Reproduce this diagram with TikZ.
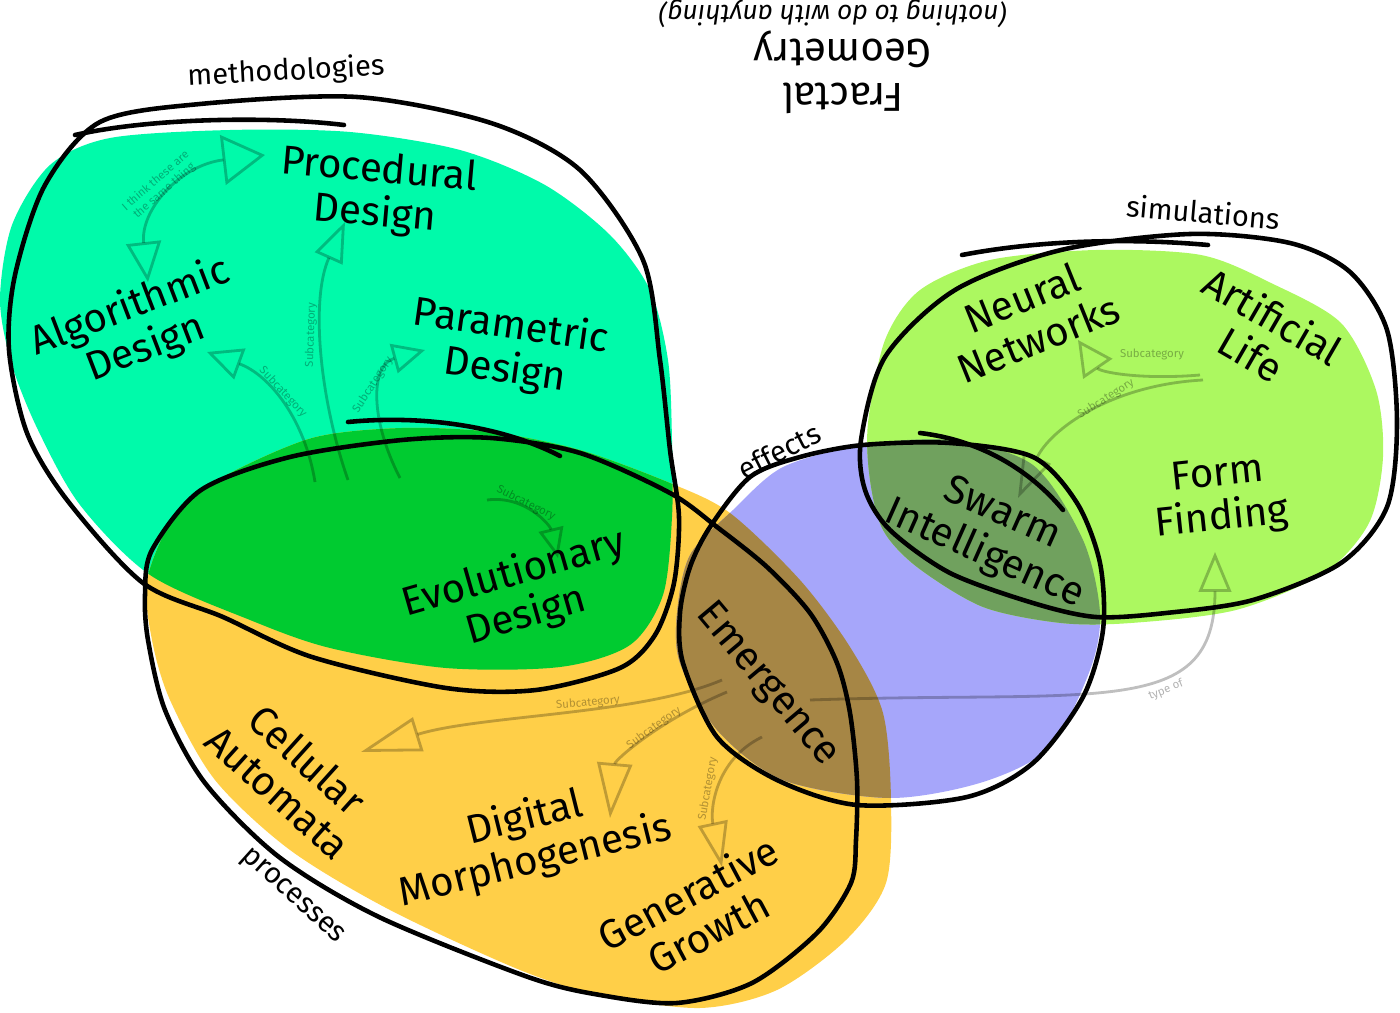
\documentclass[tikz,border=0pt]{standalone}
\usepackage{fontspec}
\setmainfont{Fira Sans}
\usepackage{tikz}
\usetikzlibrary{arrows.meta}

\definecolor{methfill}{RGB}{0,250,170}
\definecolor{procfill}{RGB}{255,207,72}
\definecolor{effefill}{RGB}{166,166,250}
\definecolor{simufill}{RGB}{172,248,96}
\definecolor{mpfill}{RGB}{0,203,48}
\definecolor{pefill}{RGB}{166,134,69}
\definecolor{esfill}{RGB}{112,161,94}

% fill blobs (pixel units)
\newcommand\methblob{plot[smooth cycle] coordinates {(0,300) (12,225) (50,165) (110,138) (230,130) (350,132) (460,150) (545,185) (610,235) (650,290) (668,360) (672,440) (672,517) (663,595) (630,645) (560,667) (446,668) (330,648) (250,620) (150,575) (80,505) (38,430) (12,365)}}
\newcommand\procblob{plot[smooth cycle] coordinates {(147,580) (175,515) (223,477) (312,438) (402,428) (491,432) (580,450) (670,483) (730,513) (800,580) (850,647) (883,713) (891,800) (886,883) (846,940) (777,990) (700,1008) (600,995) (520,970) (390,910) (290,850) (215,780) (170,700) (152,640)}}
\newcommand\effeblob{plot[smooth cycle] coordinates {(733,510) (783,467) (863,445) (950,440) (1033,465) (1083,540) (1100,613) (1090,670) (1050,747) (983,782) (890,798) (783,780) (717,730) (680,663) (677,613) (690,555)}}
\newcommand\simublob{plot[smooth cycle] coordinates {(868,423) (885,340) (920,290) (990,260) (1096,250) (1201,255) (1271,283) (1341,323) (1376,390) (1383,457) (1369,523) (1324,573) (1236,610) (1131,623) (1061,623) (983,607) (917,567) (883,530) (870,480)}}

\begin{document}
\begin{tikzpicture}[x=0.02cm,y=-0.02cm,
  ol/.style={draw=black,line width=2.6pt,line join=round,line cap=round},
  ar/.style 2 args={draw=black,draw opacity=.25,line width=1.6pt,-{Triangle[open,length=#1,width=#2]}},
  lab/.style={font=\fontsize{23}{25}\selectfont,align=center,inner sep=0pt},
  grp/.style={font=\fontsize{16.5}{19}\selectfont,inner sep=0pt},
  tiny/.style={font=\fontsize{6.5}{7.5}\selectfont,text opacity=.3,inner sep=0pt,align=center}]
\useasboundingbox (0,0) rectangle (1400,1013);

% fills and overlaps
\fill[methfill] \methblob; \fill[procfill] \procblob;
\fill[effefill] \effeblob; \fill[simufill] \simublob;
\begin{scope} \clip \methblob; \fill[mpfill] \procblob; \end{scope}
\begin{scope} \clip \procblob; \fill[pefill] \effeblob; \end{scope}
\begin{scope} \clip \effeblob; \fill[esfill] \simublob; \end{scope}

% arrow ends
\coordinate (a0) at (148,282); \coordinate (p0) at (265,155);
\coordinate (v1) at (315,482); \coordinate (v2) at (348,480); \coordinate (v3) at (400,478);
\coordinate (a1) at (207,352); \coordinate (p1) at (345,222); \coordinate (q1) at (425,350);
\coordinate (e0) at (487,500); \coordinate (e1) at (558,558);
\coordinate (m1) at (722,680); \coordinate (m2) at (727,692); \coordinate (m3) at (762,737); \coordinate (m4) at (810,700);
\coordinate (c1) at (361,752); \coordinate (d1) at (610,818); \coordinate (g1) at (722,867); \coordinate (f1) at (1215,552);
\coordinate (l1) at (1200,375); \coordinate (l2) at (1203,380);
\coordinate (n1) at (1078,340); \coordinate (s1) at (1018,498);

% arrows
\draw[draw=black,draw opacity=.25,line width=1.6pt,{Triangle[open,length=8mm,width=7mm]}-{Triangle[open,length=8.5mm,width=10mm]}]
  (a0) .. controls (140,210) and (180,165) .. (p0);
\draw[ar={7mm}{6.5mm}] (v1) .. controls (305,420) and (270,375) .. (a1);
\draw[ar={8mm}{6mm}] (v2) .. controls (320,400) and (310,300) .. (p1);
\draw[ar={6.5mm}{6mm}] (v3) .. controls (370,420) and (370,365) .. (q1);
\draw[ar={6mm}{5mm}] (e0) .. controls (525,495) and (550,525) .. (e1);
\draw[ar={12mm}{7mm}] (m1) .. controls (640,715) and (480,715) .. (c1);
\draw[ar={11mm}{7mm}] (m2) .. controls (660,720) and (615,760) .. (d1);
\draw[ar={9mm}{6mm}] (m3) .. controls (715,760) and (710,810) .. (g1);
\draw[ar={8mm}{6.5mm}] (m4) .. controls (1100,690) and (1215,720) .. (f1);
\draw[ar={7mm}{7mm}] (l1) .. controls (1140,380) and (1100,372) .. (n1);
\draw[ar={9mm}{6mm}] (l2) .. controls (1110,385) and (1050,430) .. (s1);

% outlines
\draw[ol] plot[smooth cycle] coordinates {(100,122) (200,104) (357,97) (491,123) (580,170) (643,260) (660,360) (670,450) (679,517) (674,583) (655,635) (620,668) (536,690) (446,688) (312,657) (223,617) (143,583) (67,500) (27,433) (9,350) (15,275) (45,185)};
\draw[ol] (75,135) .. controls (150,118) and (270,116) .. (344,125);
\draw[ol] plot[smooth cycle] coordinates {(152,550) (201,490) (290,457) (402,440) (491,438) (580,453) (670,493) (717,527) (767,567) (810,613) (837,663) (850,713) (857,780) (856,840) (851,883) (817,933) (752,983) (677,1003) (600,995) (528,977) (379,917) (279,857) (205,783) (165,710) (148,640) (145,595)};
\draw[ol] (348,422) .. controls (420,415) and (500,425) .. (560,456);
\draw[ol] plot[smooth cycle] coordinates {(710,527) (750,477) (800,457) (863,445) (950,443) (1033,457) (1077,503) (1100,563) (1103,630) (1083,697) (1033,763) (967,797) (857,805) (777,780) (717,737) (683,663) (680,613) (690,567)};
\draw[ol] (920,433) .. controls (980,440) and (1030,470) .. (1063,510);
\draw[ol] plot[smooth cycle] coordinates {(861,440) (885,357) (955,290) (1061,250) (1190,234) (1290,243) (1350,272) (1387,330) (1397,423) (1387,507) (1341,563) (1253,600) (1166,613) (1096,617) (1033,603) (950,573) (890,530) (865,490)};
\draw[ol] (962,255) .. controls (1040,240) and (1130,238) .. (1208,245);

% group names
\node[grp,rotate=3] (gmeth) at (286,72) {methodologies};
\node[grp,rotate=-42] (gproc) at (292,897) {processes};
\node[grp,rotate=27] (geffe) at (779,451) {effects};
\node[grp,rotate=-5] (gsimu) at (1203,212) {simulations};

% topics
\node[lab,rotate=-5] (proc) at (377,193) {Procedural\\Design};
\node[lab,rotate=21] (algo) at (138,328) {Algorithmic\\Design};
\node[lab,rotate=-8] (para) at (508,349) {Parametric\\Design};
\node[lab,rotate=16] (evol) at (520,595) {Evolutionary\\Design};
\node[lab,rotate=-50] (emer) at (767,685) {Emergence};
\node[lab,rotate=-42] (cell) at (293,776) {Cellular\\Automata};
\node[lab,rotate=14] (digi) at (530,840) {Digital\\Morphogenesis};
\node[lab,rotate=28] (gene) at (698,912) {Generative\\Growth};
\node[lab,rotate=-24] (swar) at (993,535) {Swarm\\Intelligence};
\node[lab,rotate=22] (neur) at (1030,318) {Neural\\Networks};
\node[lab,rotate=-30] (arti) at (1262,335) {Artificial\\Life};
\node[lab,rotate=6] (form) at (1220,498) {Form\\Finding};
\node[lab,rotate=180] (frac) at (843,72) {Fractal\\Geometry};
\node[rotate=180,font=\fontsize{15}{17}\selectfont\itshape,inner sep=0pt] (note) at (833,14) {(nothing to do with anything)};

% arrow labels
\node[tiny,rotate=41] (t0) at (160,186) {I think these are\\the same thing};
\node[tiny,rotate=-47] (t1) at (283,392) {Subcategory};
\node[tiny,rotate=88] (t2) at (311,335) {Subcategory};
\node[tiny,rotate=57] (t3) at (373,385) {Subcategory};
\node[tiny,rotate=-27] (t4) at (526,503) {Subcategory};
\node[tiny,rotate=5] (t5) at (588,703) {Subcategory};
\node[tiny,rotate=36] (t6) at (654,728) {Subcategory};
\node[tiny,rotate=80] (t7) at (708,789) {Subcategory};
\node[tiny,rotate=22] (t8) at (1166,690) {type of};
\node[tiny] (t9) at (1152,354) {Subcategory};
\node[tiny,rotate=32] (t10) at (1106,399) {Subcategory};
\end{tikzpicture}
\end{document}
